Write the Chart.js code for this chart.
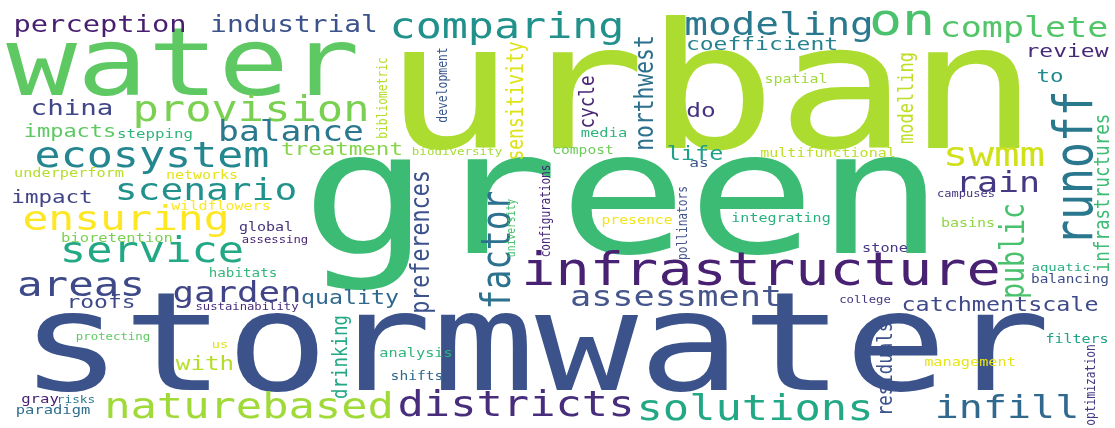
<!DOCTYPE html>
<html>
<head>
<meta charset="utf-8">
<script src="https://cdn.jsdelivr.net/npm/chart.js@4/dist/chart.umd.min.js"></script>
<style>
  html, body { margin: 0; padding: 0; background: #fff; }
</style>
</head>
<body>
<canvas id="chart" width="1115" height="428"></canvas>
<script>
// 単語(ワードクラウド)
const words = [
  "water", "urban", "green", "stormwater", "infrastructure", "comparing", "provision", "balance",
  "ecosystem", "scenario", "ensuring", "service", "areas", "naturebased", "districts", "solutions",
  "infill", "garden", "assessment", "modeling", "on", "complete", "perception", "industrial",
  "china", "impacts", "stepping", "coefficient", "review", "to", "spatial", "do",
  "media", "underperform", "networks", "impact", "wildflowers", "global", "assessing", "bioretention",
  "habitats", "treatment", "biodiversity", "compost", "life", "as", "multifunctional", "presence",
  "integrating", "swmm", "rain", "campuses", "basins", "stone", "aquatic", "balancing",
  "roofs", "sustainability", "protecting", "us", "with", "gray", "risks", "paradigm",
  "quality", "analysis", "shifts", "college", "catchmentscale", "filters", "management",
  // 縦書き
  "bibliometric", "development", "sensitivity", "cycle", "northwest", "modelling", "runoff", "infrastructures",
  "preferences", "factor", "university", "configurations", "pollinators", "public", "drinking", "residuals",
  "optimization"
];

// 位置 (横書き: 中心x / ベースラインy, 縦書き: ベースラインx / 中心y)
const posX = [
  183, 711, 623, 535, 761, 507, 251, 291,
  152, 206, 126, 152, 81, 249, 516, 755,
  1007, 237, 676, 779, 902, 1024, 100, 294,
  72, 70, 155, 762, 1067, 1050, 796, 701,
  604, 69, 202, 52, 221, 266, 275, 117,
  243, 342, 457, 583, 695, 699, 828, 637,
  781, 994, 998, 966, 968, 885, 1061, 1070,
  101, 247, 113, 220, 205, 40, 76, 53,
  350, 416, 417, 865, 1000, 1077, 970,
  387, 447, 523, 594, 653, 913, 1092, 1109,
  429, 510, 515, 550, 687, 1024, 347, 892,
  1095
];
const posY = [
  95, 148, 253, 390, 285, 38, 121, 141,
  167, 200, 230, 262, 296, 418, 416, 420,
  418, 302, 306, 35, 35, 37, 32, 32,
  115, 137, 138, 50, 57, 82, 83, 117,
  137, 177, 179, 203, 210, 231, 243, 242,
  277, 155, 155, 154, 160, 167, 157, 224,
  222, 166, 192, 197, 227, 252, 271, 283,
  308, 310, 340, 348, 370, 403, 403, 414,
  304, 357, 380, 303, 311, 343, 366,
  98, 85, 101, 102, 93, 98, 168, 193,
  242, 250, 228, 211, 223, 251, 357, 369,
  385
];

// 文字サイズ(頻度)
const sizes = [
  94, 174, 171, 137, 45.5, 34.7, 35, 27.7,
  34.7, 30.3, 34.4, 35, 34, 35, 35, 35,
  32, 28.6, 28.2, 31.5, 44, 28, 23, 22.3,
  22, 17.6, 12.6, 18.4, 18.4, 18, 12, 19.6,
  12.4, 12.2, 12, 18, 12, 12, 9.8, 12.4,
  11.4, 18, 10, 11.7, 18.8, 13, 12, 11.8,
  12, 34, 28, 9.6, 12, 12.2, 11.2, 11.5,
  18.4, 9.8, 9.9, 10.9, 19.4, 12.5, 10.2, 12.4,
  18.6, 12.2, 11.7, 9.8, 18.7, 12, 12.2,
  11.3, 11.4, 18, 17.6, 21.3, 17, 43, 17.6,
  21.7, 32.9, 9.7, 11, 11.2, 26.6, 17.4, 17.4,
  11.3
];

// 縦書きかどうか
const vertical = words.map((w, i) => i >= 71);

// 色(viridis)
const colors = [
  "#5ec962", "#addc30", "#3cbb75", "#3b528b", "#482173", "#21918c", "#7ad151", "#2a788e",
  "#24868e", "#21918c", "#fde725", "#22a884", "#3e4989", "#a0da39", "#472d7b", "#22a884",
  "#31688e", "#414487", "#46568c", "#2a788e", "#4ac16d", "#52c569", "#481f70", "#3b528b",
  "#404688", "#5ec962", "#2fb47c", "#26828e", "#482979", "#23898e", "#9fda3a", "#46327e",
  "#2fb47c", "#b5de2b", "#e5e419", "#414487", "#fde725", "#46337e", "#482576", "#7ad151",
  "#35b779", "#86d549", "#a5db36", "#6ccd5a", "#1fa088", "#38598c", "#bddf26", "#f1e51d",
  "#2ab07f", "#d0e11c", "#443983", "#46337e", "#8fd744", "#453781", "#29af7f", "#3e4c8a",
  "#3e4989", "#472c7a", "#5ec962", "#dde318", "#b5de2b", "#482173", "#2a788e", "#2e6e8e",
  "#31688e", "#2fb47c", "#31688e", "#453781", "#3e4a89", "#20a486", "#e7e419",
  "#b5de2b", "#39568c", "#dde318", "#482475", "#2d708e", "#bddf26", "#2a788e", "#3dbc74",
  "#3b528b", "#2c728e", "#4ac16d", "#482878", "#46558c", "#4ac16d", "#22a884", "#3b528b",
  "#443a83"
];

// 横方向の引き伸ばし
const stretch = 1.25;

// 単語を描くプラグイン
const wordPlugin = {
  id: 'words',
  afterDatasetsDraw(chart) {
    const ctx = chart.ctx;
    const meta = chart.getDatasetMeta(0);
    meta.data.forEach((pt, i) => {
      ctx.save();
      ctx.translate(pt.x, pt.y);
      ctx.scale(stretch, 1);
      if (vertical[i]) ctx.rotate(-Math.PI / 2);
      ctx.font = sizes[i] + 'px "DejaVu Sans Mono"';
      ctx.fillStyle = colors[i];
      ctx.textAlign = 'center';
      ctx.textBaseline = 'alphabetic';
      ctx.fillText(words[i], 0, 0);
      ctx.restore();
    });
  }
};

let ctx = document.getElementById('chart');

let chart = new Chart(ctx, {
  type: 'scatter',
  data: {
    datasets: [{
      data: posX.map((x, i) => ({ x: x, y: posY[i] })),
      pointRadius: 0
    }]
  },
  options: {
    responsive: false,
    animation: false,
    layout: { padding: 0 },
    plugins: { legend: { display: false }, tooltip: { enabled: false } },
    scales: {
      x: { type: 'linear', min: 0, max: 1115, display: false },
      y: { type: 'linear', min: 0, max: 428, reverse: true, display: false }
    }
  },
  plugins: [wordPlugin]
});
</script>
</body>
</html>
